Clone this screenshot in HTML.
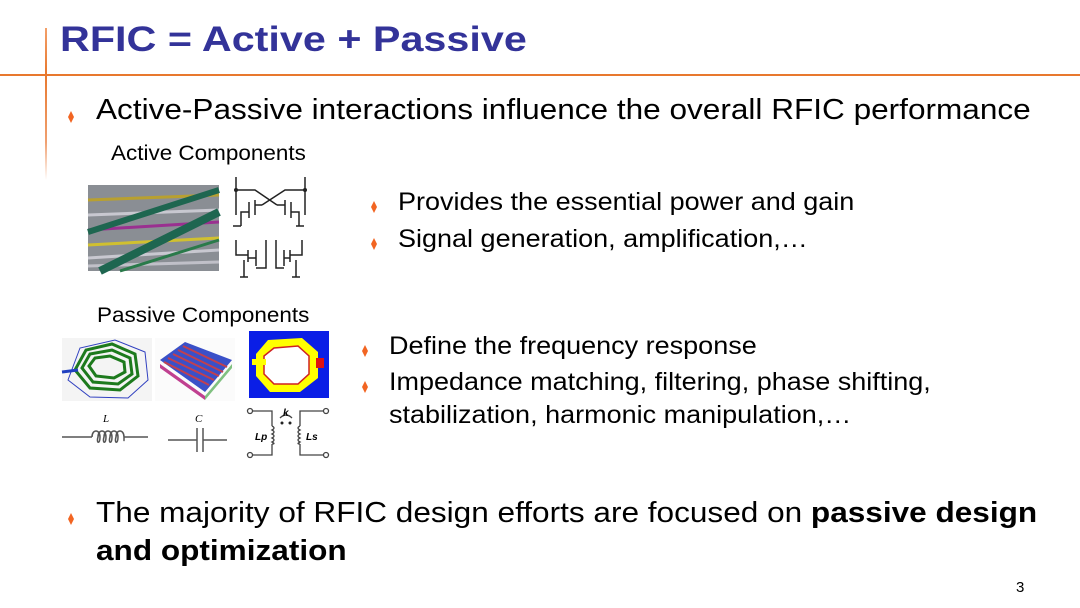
<!DOCTYPE html>
<html><head><meta charset="utf-8"><style>
html,body{margin:0;padding:0;background:#fff}
body{width:1080px;height:608px;position:relative;overflow:hidden;font-family:"Liberation Sans",Arial,sans-serif;color:#000}
.t{position:absolute;white-space:nowrap;transform-origin:0 50%}
.d{position:absolute;width:6px;height:12px;background:#f26522;clip-path:polygon(50% 0,100% 50%,50% 100%,0 50%)}
.b{font-size:29px;transform:scaleX(1.088)}
.s{font-size:25px;transform:scaleX(1.08)}
.l{font-size:21px;transform:scaleX(1.07)}
</style></head><body>
<div style="position:absolute;left:0;top:74px;width:1080px;height:2px;background:#e8782e"></div>
<div style="position:absolute;left:45px;top:28px;width:2px;height:152px;background:linear-gradient(#f3a06a,#e8782e 30%,#f0a070 75%,rgba(255,255,255,0))"></div>
<div class="t" style="left:60px;top:20px;font-size:35px;font-weight:bold;color:#333399;transform:scaleX(1.18)">RFIC = Active + Passive</div>

<div class="d" style="left:68px;top:111px"></div>
<div class="t b" style="left:96px;top:94px">Active-Passive interactions influence the overall RFIC performance</div>
<div class="t l" style="left:111px;top:142px">Active Components</div>
<div class="t l" style="left:97px;top:304px">Passive Components</div>

<div class="d" style="left:371px;top:201px"></div>
<div class="t s" style="left:398px;top:188px">Provides the essential power and gain</div>
<div class="d" style="left:371px;top:238px"></div>
<div class="t s" style="left:398px;top:225px">Signal generation, amplification,…</div>

<div class="d" style="left:362px;top:345px"></div>
<div class="t s" style="left:389px;top:332px">Define the frequency response</div>
<div class="d" style="left:362px;top:381px"></div>
<div class="t s" style="left:389px;top:368px">Impedance matching, filtering, phase shifting,</div>
<div class="t s" style="left:389px;top:401px">stabilization, harmonic manipulation,…</div>

<div class="d" style="left:68px;top:513px"></div>
<div class="t b" style="left:96px;top:497px">The majority of RFIC design efforts are focused on <b>passive design</b></div>
<div class="t b" style="left:96px;top:535px;font-weight:bold">and optimization</div>
<div class="t" style="left:1016px;top:579px;font-size:15px">3</div>

<svg width="1080" height="608" style="position:absolute;left:0;top:0" xmlns="http://www.w3.org/2000/svg">
<rect x="88" y="185" width="131" height="86" fill="#8a8e94"/>
<g stroke-width="3">
<line x1="88" y1="200" x2="219" y2="195" stroke="#b8a030"/>
<line x1="88" y1="215" x2="219" y2="210" stroke="#c8c8d0"/>
<line x1="88" y1="230" x2="219" y2="222" stroke="#9a3090"/>
<line x1="88" y1="245" x2="219" y2="238" stroke="#d0c030"/>
<line x1="88" y1="258" x2="219" y2="250" stroke="#c8c8d0"/>
<line x1="88" y1="266" x2="219" y2="262" stroke="#c0c0c8"/>
</g>
<line x1="88" y1="232" x2="219" y2="190" stroke="#1e6650" stroke-width="6"/>
<line x1="100" y1="271" x2="219" y2="212" stroke="#1e6650" stroke-width="8"/>
<line x1="120" y1="271" x2="219" y2="240" stroke="#2a7a4a" stroke-width="3"/>
<g stroke="#222" stroke-width="1.5" fill="none">
<path d="M236 177V190H255L277 205M305 177V190H285L262 205"/>
<path d="M236 190V215M305 190V215"/>
<path d="M255 200V215M285 200V215M249 202V218M291 202V218"/>
<path d="M255 205H262M285 205H277"/>
<path d="M249 212H241V226M291 212H299V226"/>
<path d="M233 226h8M296 226h8"/>
<path d="M236 240V255H248M266 240V268H256M248 250V262M256 250V266M256 258H248M244 260V277"/>
<path d="M302 240V255H290M276 240V268H284M290 250V262M284 250V266M284 258H290M296 260V277"/>
<path d="M240 277h8M292 277h8"/>
</g>
<circle cx="236" cy="190" r="2" fill="#222"/><circle cx="305" cy="190" r="2" fill="#222"/>
<rect x="62" y="338" width="90" height="63" fill="#f4f4f4"/>
<polygon points="68,380 80,348 115,340 145,352 148,380 128,398 90,397" fill="none" stroke="#3040c0" stroke-width="1"/>
<g fill="none" stroke="#1d7a1d" stroke-width="3">
<polygon points="75,370 86,350 112,344 135,354 138,376 120,390 90,388"/>
<polygon points="82,368 90,354 112,350 130,358 132,374 118,384 93,382"/>
<polygon points="89,366 95,358 110,356 124,362 125,372 114,378 96,376"/>
</g>
<line x1="62" y1="372" x2="78" y2="370" stroke="#2040c0" stroke-width="3"/>
<rect x="155" y="338" width="80" height="63" fill="#fbfbfb"/>
<polygon points="160,360 185,342 232,360 205,392" fill="#3a50c8"/>
<polygon points="160,364 205,396 205,400 160,368" fill="#c04090"/>
<polygon points="205,396 232,364 232,368 205,400" fill="#80c080"/>
<g stroke="#c04050" stroke-width="2">
<line x1="168" y1="358" x2="214" y2="380"/><line x1="173" y1="354" x2="219" y2="376"/>
<line x1="178" y1="350" x2="223" y2="372"/><line x1="183" y1="346" x2="227" y2="367"/>
<line x1="164" y1="362" x2="209" y2="385"/>
</g>
<rect x="249" y="331" width="80" height="67" fill="#0a1ee6"/>
<polygon points="268,340 302,338 318,352 318,378 300,392 270,392 256,376 256,354" fill="#ffff00"/>
<polygon points="274,348 298,346 309,356 309,374 298,384 274,384 264,374 264,356" fill="#fff"/>
<polygon points="274,348 298,346 309,356 309,374 298,384 274,384 264,374 264,356" fill="none" stroke="#d02020" stroke-width="1.5"/>
<rect x="316" y="358" width="8" height="10" fill="#e01010"/>
<rect x="252" y="359" width="14" height="6" fill="#ffff00"/>
<text x="103" y="422" font-family="Liberation Serif" font-style="italic" font-size="11">L</text>
<path d="M62 437H92M135 437H148" stroke="#555" stroke-width="1.5" fill="none"/>
<path d="M92 437c0-8 8-8 8 0s-4 6 -2 0c0-8 8-8 8 0s-4 6-2 0c0-8 8-8 8 0s-4 6-2 0c0-8 8-8 8 0s-4 6-2 0c0-8 8-8 8 0s0 0 0 0H135" stroke="#555" stroke-width="1.5" fill="none"/>
<text x="195" y="422" font-family="Liberation Serif" font-style="italic" font-size="11">C</text>
<path d="M168 440H197M197 428V452M203 428V452M203 440H227" stroke="#555" stroke-width="1.5" fill="none"/>
<g stroke="#444" stroke-width="1.3" fill="none">
<circle cx="250" cy="411" r="2.5" fill="#fff"/><circle cx="250" cy="455" r="2.5" fill="#fff"/>
<circle cx="326" cy="411" r="2.5" fill="#fff"/><circle cx="326" cy="455" r="2.5" fill="#fff"/>
<path d="M253 411H272V426M272 444V455H253M323 411H300V426M300 444V455H323"/>
<path d="M272 426q4 2 0 4q4 2 0 4q4 2 0 4q4 2 0 4q4 2 0 2M300 426q-4 2 0 4q-4 2 0 4q-4 2 0 4q-4 2 0 4q-4 2 0 2"/>
<path d="M280 418q6-6 12 0"/>
</g>
<circle cx="282" cy="423" r="1.5" fill="#222"/><circle cx="290" cy="423" r="1.5" fill="#222"/>
<text x="283" y="416" font-family="Liberation Sans" font-weight="bold" font-style="italic" font-size="10">k</text>
<text x="255" y="440" font-family="Liberation Sans" font-weight="bold" font-style="italic" font-size="10">Lp</text>
<text x="306" y="440" font-family="Liberation Sans" font-weight="bold" font-style="italic" font-size="10">Ls</text>
</svg>
</body></html>
